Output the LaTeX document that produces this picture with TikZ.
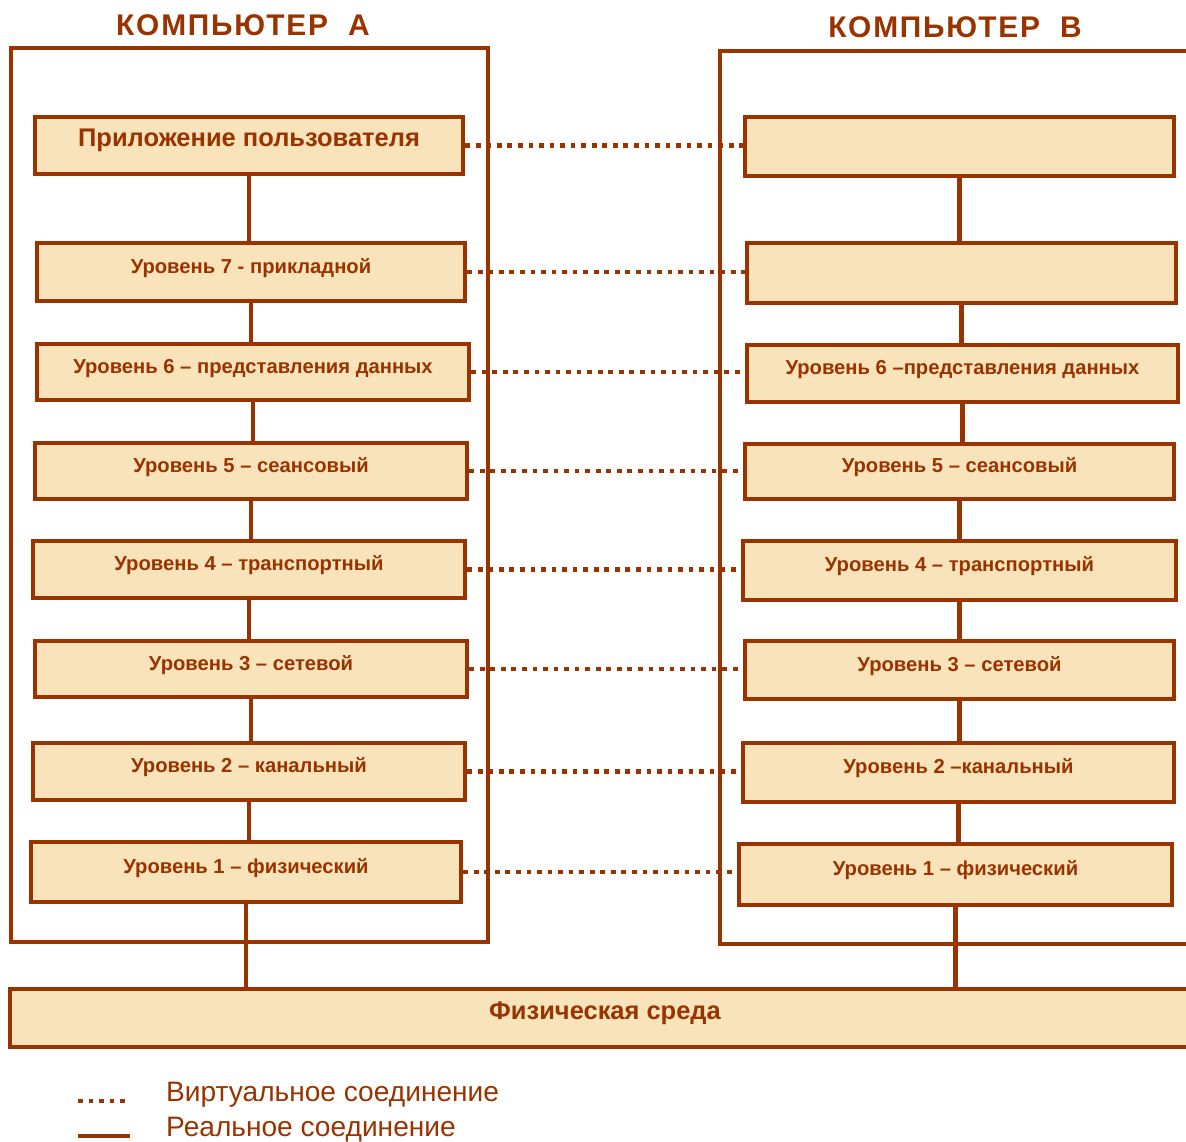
\documentclass[tikz,border=0pt]{standalone}
\usepackage{fontspec}
\setmainfont{Liberation Sans}
\newfontfamily\titlefont[LetterSpace=6]{Liberation Sans}
\usepackage{xcolor}
\definecolor{osi_line}{RGB}{153, 51, 0}
\definecolor{osi_fill}{RGB}{249, 227, 186}

\begin{document}
\begin{tikzpicture}[x=0.02cm, y=-0.02cm,
    layer/.style={draw=osi_line, fill=osi_fill, line width=2.6pt, inner sep=0pt,
      text=osi_line, text height=8.5pt, text depth=7pt,
      font=\fontsize{11.5}{13}\selectfont\bfseries},
    real/.style={draw=osi_line, line width=2.6pt},
    virtual/.style={draw=osi_line, line width=2.5pt, dash pattern=on 2.7pt off 3.3pt},
    pcbox/.style={draw=osi_line, line width=2.8pt},
    pctitle/.style={text=osi_line, font=\titlefont\fontsize{17}{19}\selectfont\bfseries},
    legendtext/.style={text=osi_line, anchor=west, font=\fontsize{16}{18}\selectfont}]
  \path[use as bounding box, clip] (0,0) rectangle (1186,1142);

  % computers
  \draw[pcbox] (11,48) rectangle (488,942);
  \draw[pcbox] (1195,51) -- (720,51) -- (720,944) -- (1195,944);
  \node[pctitle] (titleA) at (243,25) {КОМПЬЮТЕР\ \ А};
  \node[pctitle] (titleB) at (955,27) {КОМПЬЮТЕР\ \ В};

  % levels of computer A
  \foreach \n/\xa/\ya/\xb/\yb/\txt in {
      1/35/117/463/174/{\fontsize{14.5}{16}\selectfont Приложение пользователя},
      2/37/243/465/301/Уровень 7 - прикладной,
      3/37/344/469/400/Уровень 6 – представления данных,
      4/35/443/467/499/Уровень 5 – сеансовый,
      5/33/541/465/598/Уровень 4 – транспортный,
      6/35/641/467/697/Уровень 3 – сетевой,
      7/33/743/465/800/Уровень 2 – канальный,
      8/31/842/461/902/Уровень 1 – физический} {
    \node[layer, minimum width={(\xb-\xa)*0.02cm}, minimum height={(\yb-\ya)*0.02cm}]
      (A\n) at ({(\xa+\xb)/2},{(\ya+\yb)/2}) {\txt};
  }
  % levels of computer B
  \foreach \n/\xa/\ya/\xb/\yb/\txt in {
      1/745/117/1174/176/{},
      2/747/243/1176/303/{},
      3/747/345/1178/402/Уровень 6 –представления данных,
      4/745/444/1174/499/Уровень 5 – сеансовый,
      5/743/541/1176/600/Уровень 4 – транспортный,
      6/745/641/1174/699/Уровень 3 – сетевой,
      7/743/743/1174/802/Уровень 2 –канальный,
      8/739/844/1172/905/Уровень 1 – физический} {
    \node[layer, minimum width={(\xb-\xa)*0.02cm}, minimum height={(\yb-\ya)*0.02cm}]
      (B\n) at ({(\xa+\xb)/2},{(\ya+\yb)/2}) {\txt};
  }
  \node[layer, minimum width={1190*0.02cm}, minimum height={58*0.02cm},
    font=\fontsize{14.5}{16}\selectfont\bfseries] (medium) at (605,1018) {Физическая среда};

  % real connections
  \foreach \i/\j in {1/2, 2/3, 3/4, 4/5, 5/6, 6/7, 7/8} {
    \draw[real] (A\i.south) -- (A\i.south |- A\j.north);
    \draw[real] (B\i.south) -- (B\i.south |- B\j.north);
  }
  \draw[real] (A8.south) -- (A8.south |- medium.north);
  \draw[real] (B8.south) -- (B8.south |- medium.north);

  % virtual connections
  \foreach \i in {1,...,8} {
    \draw[virtual] (A\i.east) -- (A\i.east -| B\i.west);
  }

  % legend
  \draw[virtual] (78,1101) -- (128,1101);
  \node[legendtext] (lgvirt) at (160,1095) {Виртуальное соединение};
  \draw[real] (78,1136) -- (130,1136);
  \node[legendtext] (lgreal) at (160,1130) {Реальное соединение};
\end{tikzpicture}
\end{document}
